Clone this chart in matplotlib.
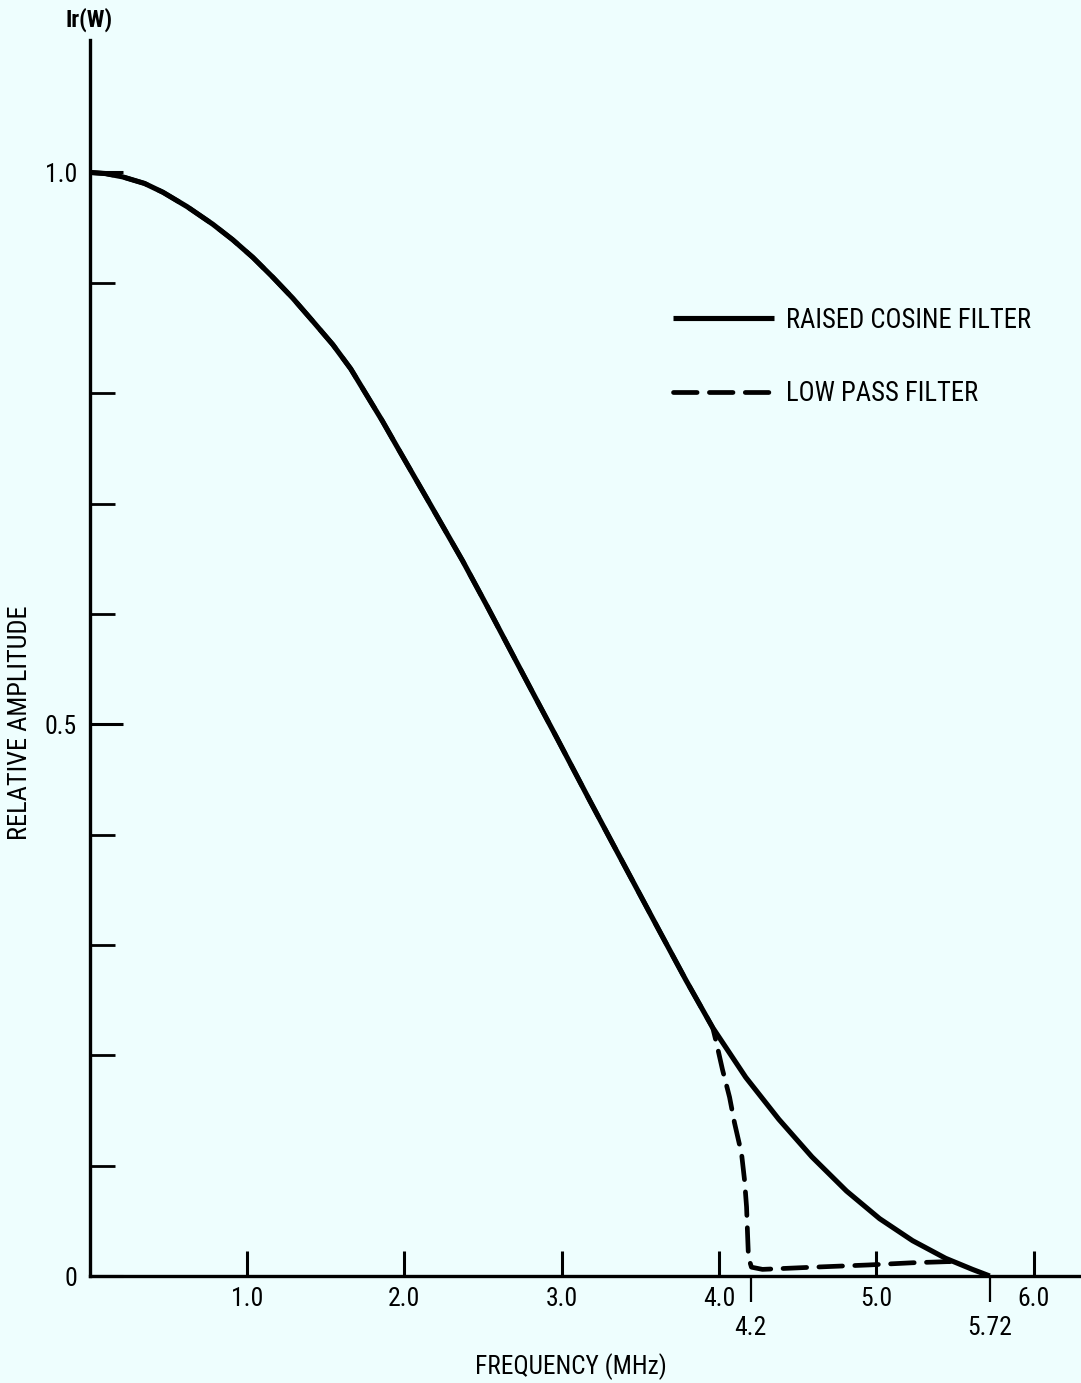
import numpy as np
import matplotlib
matplotlib.use("Agg")
import matplotlib.pyplot as plt
from matplotlib import font_manager

# values (MHz, relative amplitude)
freq = [0.0, 0.1, 0.21, 0.35, 0.467, 0.62, 0.784, 0.91, 1.038, 1.165, 1.292,
        1.42, 1.546, 1.66, 1.762, 1.86, 1.952, 2.15, 2.371, 2.53, 2.689, 2.83,
        2.968, 3.178, 3.305, 3.41, 3.62, 3.79, 3.96, 4.17, 4.38, 4.59, 4.81,
        5.02, 5.23, 5.44, 5.61, 5.72]
raised_cos = [1.0, 0.999, 0.996, 0.990, 0.982, 0.969, 0.953, 0.939, 0.923, 0.905,
              0.886, 0.865, 0.844, 0.822, 0.798, 0.775, 0.752, 0.703, 0.648, 0.606,
              0.563, 0.525, 0.488, 0.431, 0.397, 0.369, 0.313, 0.268, 0.225, 0.180,
              0.142, 0.108, 0.077, 0.052, 0.032, 0.016, 0.006, 0.0]

# low pass follows the raised cosine up to ~3.96 MHz, then drops at 4.2
split = 29
lp_freq = freq[:split] + [3.984, 4.022, 4.067, 4.098, 4.143, 4.162, 4.175, 4.181,
                          4.187, 4.206, 4.276, 4.6, 4.95, 5.23, 5.45, 5.5]
low_pass = raised_cos[:split] + [0.211, 0.187, 0.162, 0.139, 0.111, 0.087, 0.0625,
                                 0.039, 0.017, 0.008, 0.006, 0.008, 0.010, 0.012,
                                 0.013, 0.013]

xticks = [1.0, 2.0, 3.0, 4.0, 5.0, 6.0]
xtick_labels = ["1.0", "2.0", "3.0", "4.0", "5.0", "6.0"]
xmarks = [4.2, 5.72]
xmark_labels = ["4.2", "5.72"]
yticks = [0.0, 0.5, 1.0]
ytick_labels = ["0", "0.5", "1.0"]
yminor = [0.1, 0.2, 0.3, 0.4, 0.6, 0.7, 0.8, 0.9]


def has_font(name):
    try:
        font_manager.findfont(font_manager.FontProperties(family=name),
                              fallback_to_default=False)
        return True
    except ValueError:
        return False


if has_font("Roboto Condensed"):
    FONT = ["Roboto Condensed", "DejaVu Sans"]
    tsize, lsize, xsize, ysize = 18.5, 19.2, 18.3, 19
else:
    FONT = ["Liberation Sans", "DejaVu Sans"]
    tsize, lsize, xsize, ysize = 15, 15.4, 15.5, 15.5
plt.rcParams["font.family"] = FONT
bg = "#eefefe"

fig = plt.figure(figsize=(10.81, 13.83), dpi=100, facecolor=bg)
ax = fig.add_axes([89.5 / 1081, 1 - 1276 / 1383, 1 - 89.5 / 1081, 1236 / 1383])
ax.set_facecolor(bg)

# low pass first so the solid curve sits on top where they overlap
lp, = ax.plot(lp_freq, low_pass, color="black", lw=3.4, label="LOW PASS FILTER")
lp.set_dashes((5, 2.6))
lp.set_dash_capstyle("round")
rc, = ax.plot(freq, raised_cos, color="black", lw=3.7, label="RAISED COSINE FILTER",
              solid_capstyle="butt", solid_joinstyle="round")

ax.set_xlim(0, 6.3)
ax.set_ylim(0, 1.12)
for s in ["top", "right"]:
    ax.spines[s].set_visible(False)
for s in ["left", "bottom"]:
    ax.spines[s].set_linewidth(2.4)

ax.set_xticks(xticks)
ax.set_xticklabels(xtick_labels)
ax.set_xticks(xmarks, minor=True)
ax.set_xticklabels(xmark_labels, minor=True)
ax.tick_params(axis="x", which="major", direction="in", length=18, width=2.2,
               pad=8, labelsize=tsize)
ax.tick_params(axis="x", which="minor", direction="out", length=19, width=1.6,
               pad=10, labelsize=tsize)

ax.set_yticks(yticks)
ax.set_yticklabels(ytick_labels)
ax.set_yticks(yminor, minor=True)
ax.tick_params(axis="y", which="major", direction="in", length=24, width=2.2,
               pad=9, labelsize=tsize)
ax.tick_params(axis="y", which="minor", direction="in", length=18, width=2.0)

ax.set_xlabel("FREQUENCY (MHz)", fontsize=xsize)
ax.xaxis.label.set_va("center")
ax.xaxis.set_label_coords(0.486, -0.073)
ax.set_ylabel("RELATIVE AMPLITUDE", fontsize=ysize)
ax.yaxis.label.set_va("center")
ax.yaxis.set_label_coords(-0.07, 0.448)
ax.text(0.0, 1.016, "Ir(W)", transform=ax.transAxes, ha="center", va="center",
        fontsize=17, fontweight="bold")

leg = ax.legend(handles=[rc, lp], loc="center left",
                bbox_to_anchor=(673 / 1081, 1 - 357 / 1383), bbox_transform=fig.transFigure,
                frameon=False, fontsize=lsize, handlelength=3.8, handletextpad=0.45,
                labelspacing=1.75, borderpad=0, borderaxespad=0)

fig.savefig("out.png", dpi=100, facecolor=bg)
